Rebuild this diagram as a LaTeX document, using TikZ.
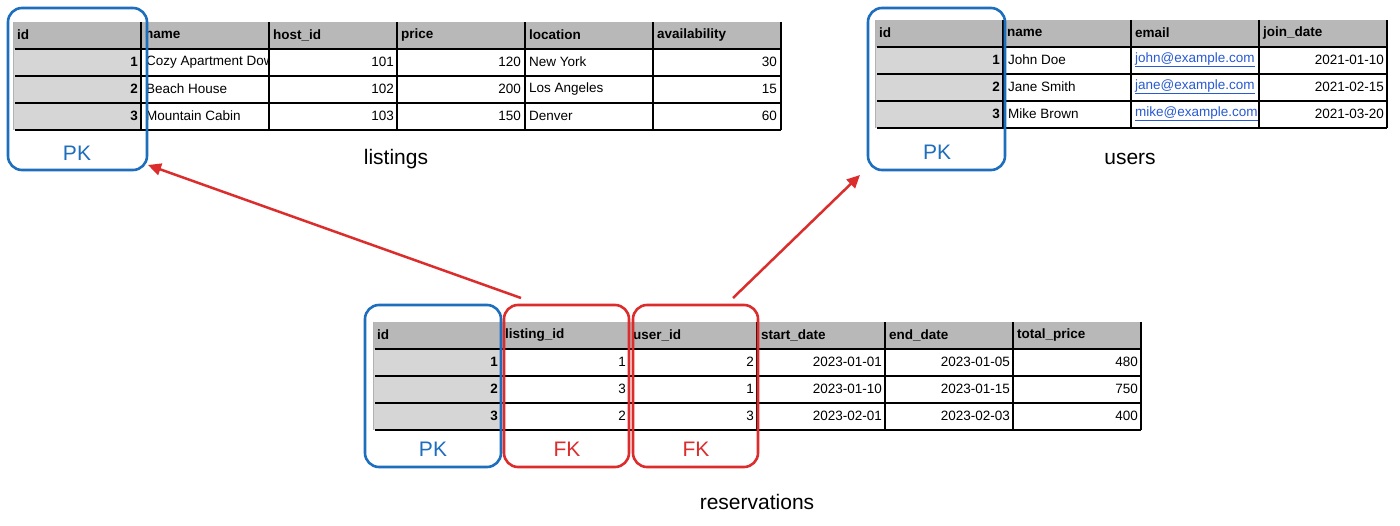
\documentclass[tikz,border=0pt]{standalone}
\usepackage{fontspec}
\setmainfont{Liberation Sans}
\usetikzlibrary{arrows.meta}
\definecolor{pkblue}{RGB}{30,110,190}
\definecolor{fkred}{RGB}{220,45,45}
\definecolor{hdr}{RGB}{184,184,184}
\definecolor{idc}{RGB}{214,214,214}
\definecolor{lnk}{RGB}{40,90,210}
\tikzset{
 cellL/.style={anchor=west,inner sep=0pt,font=\fontsize{13.5}{13.5}\selectfont},
 cellR/.style={anchor=east,inner sep=0pt,font=\fontsize{13.5}{13.5}\selectfont},
 cellB/.style={anchor=east,inner sep=0pt,font=\fontsize{13.5}{13.5}\selectfont\bfseries},
 hd/.style={anchor=west,inner sep=0pt,font=\fontsize{13.5}{13.5}\selectfont\bfseries},
 grid/.style={line width=1.7pt,black},
 pkbox/.style={draw=pkblue,line width=2.6pt,rounded corners=14pt},
 fkbox/.style={draw=fkred,line width=2.6pt,rounded corners=14pt},
 keylab/.style={font=\fontsize{21}{21}\selectfont,inner sep=0pt},
 title/.style={font=\fontsize{21}{21}\selectfont,inner sep=0pt},
 fk/.style={draw=fkred,line width=2.5pt,-{Triangle[length=13pt,width=12pt]}}
}
\newcommand\tblgrid[3]{%
 \fill[hdr] (#1,#2) rectangle ++(#3*128,27);
 \fill[idc] (#1,#2+27) rectangle ++(128,81);
 \draw[gray!60,line width=1pt] (#1,#2) -- (#1,#2+108);
 \foreach \r in {1,2,3,4} \draw[grid] (#1+2,#2+27*\r) -- (#1+#3*128,#2+27*\r);
 \foreach \c in {1,...,#3} \draw[grid] (#1+128*\c,#2) -- (#1+128*\c,#2+108);
}
\begin{document}
\begin{tikzpicture}[x=1pt,y=-1pt]
\useasboundingbox (0,0) rectangle (1400,526);
\fill[white] (0,0) rectangle (1400,526);
% ---------- listings
\tblgrid{13}{22}{6}
\foreach \t [count=\i from 0] in {id,name,host\_id,price,location,availability}
  \node[hd] (lh\i) at (13+4+128*\i,35) {\t};
\foreach \a/\b/\c/\d/\e/\f [count=\r] in {1/Cozy Apartment Downtown/101/120/New York/30,2/Beach House/102/200/Los Angeles/15,3/Mountain Cabin/103/150/Denver/60}{
  \node[cellB] (l\r a) at (138,35+27*\r) {\a};
  \begin{scope}\clip (142,22+27*\r) rectangle (269,49+27*\r);
  \node[cellL] (l\r b) at (146,35+27*\r) {\b};\end{scope}
  \node[cellR] (l\r c) at (394,35+27*\r) {\c};
  \node[cellR] (l\r d) at (521,35+27*\r) {\d};
  \node[cellL] (l\r e) at (529,35+27*\r) {\e};
  \node[cellR] (l\r f) at (777,35+27*\r) {\f};
}
\node[pkbox,minimum width=139pt,minimum height=162pt] (lpk) at (77.5,89) {};
\node[keylab,text=pkblue] (lpkl) at (77,153) {PK};
\node[title] (ltitle) at (396,159) {listings};
% ---------- users
\tblgrid{875}{20}{4}
\foreach \t [count=\i from 0] in {id,name,email,join\_date}
  \node[hd] (uh\i) at (875+4+128*\i,33) {\t};
\foreach \a/\b/\c/\d [count=\r] in {1/John Doe/john/2021-01-10,2/Jane Smith/jane/2021-02-15,3/Mike Brown/mike/2021-03-20}{
  \node[cellB] (u\r a) at (1000,33+27*\r) {\a};
  \node[cellL] (u\r b) at (1008,33+27*\r) {\b};
  \node[cellL,text=lnk] (u\r c) at (1135,33+27*\r) {\underline{\c @example.com}};
  \node[cellR] (u\r d) at (1384,33+27*\r) {\d};
}
\node[pkbox,minimum width=137pt,minimum height=162pt] (upk) at (936.5,89) {};
\node[keylab,text=pkblue] (upkl) at (937,152) {PK};
\node[title] (utitle) at (1130,159) {users};
% ---------- reservations
\tblgrid{373}{322}{6}
\foreach \t [count=\i from 0] in {id,listing\_id,user\_id,start\_date,end\_date,total\_price}
  \node[hd] (rh\i) at (373+4+128*\i,335) {\t};
\foreach \a/\b/\c/\d/\e/\f [count=\r] in {1/1/2/2023-01-01/2023-01-05/480,2/3/1/2023-01-10/2023-01-15/750,3/2/3/2023-02-01/2023-02-03/400}{
  \node[cellB] (r\r a) at (498,335+27*\r) {\a};
  \node[cellR] (r\r b) at (626,335+27*\r) {\b};
  \node[cellR] (r\r c) at (754,335+27*\r) {\c};
  \node[cellR] (r\r d) at (882,335+27*\r) {\d};
  \node[cellR] (r\r e) at (1010,335+27*\r) {\e};
  \node[cellR] (r\r f) at (1138,335+27*\r) {\f};
}
\node[pkbox,minimum width=136pt,minimum height=162pt] (rpk) at (433,386) {};
\node[fkbox,minimum width=125pt,minimum height=162pt] (rfk1) at (566.5,386) {};
\node[fkbox,minimum width=125pt,minimum height=162pt] (rfk2) at (695.5,386) {};
\node[keylab,text=pkblue] (rpkl) at (433,449) {PK};
\node[keylab,text=fkred] (rfk1l) at (567,449) {FK};
\node[keylab,text=fkred] (rfk2l) at (696,449) {FK};
\node[title] (rtitle) at (757,502) {reservations};
% ---------- arrows
\coordinate (a1s) at (521,298); \coordinate (a1e) at (148,165);
\coordinate (a2s) at (733,298); \coordinate (a2e) at (860,175);
\draw[fk] (a1s) -- (a1e);
\draw[fk] (a2s) -- (a2e);
\end{tikzpicture}
\end{document}
